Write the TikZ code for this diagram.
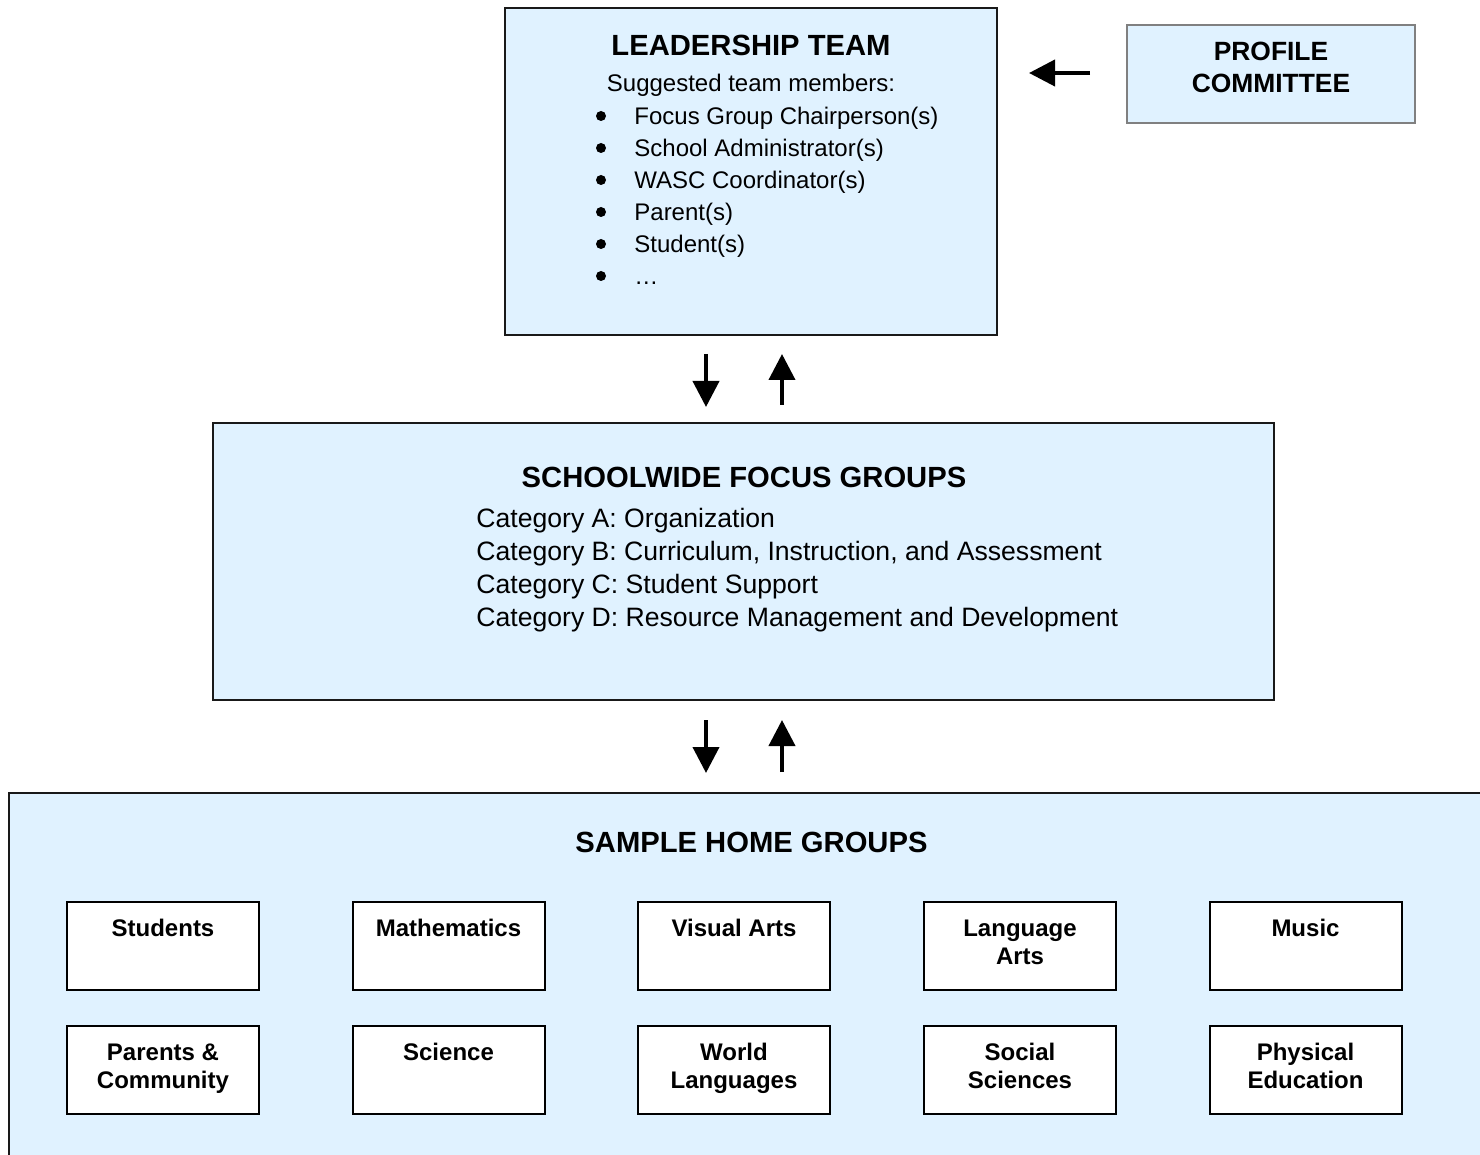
\documentclass[tikz,border=0pt]{standalone}
\usepackage{fontspec}
\setmainfont{Liberation Sans}
\usetikzlibrary{arrows.meta,calc}
\definecolor{boxblue}{RGB}{224,242,255}
\definecolor{profgray}{RGB}{128,128,128}
\begin{document}
\begin{tikzpicture}[x=0.5pt,y=-0.5pt,
  panel/.style={draw=black!90, line width=1pt, fill=boxblue, inner sep=0pt},
  profbox/.style={draw=profgray, line width=1pt, fill=boxblue, inner sep=0pt,
    minimum width=144pt, minimum height=49pt},
  homebox/.style={draw=black, line width=1pt, fill=white, inner sep=0pt,
    minimum width=96pt, minimum height=44pt},
  bulletdot/.style={circle, fill=black, inner sep=0pt, minimum size=5pt},
  txt/.style={inner sep=0pt, anchor=base},
  lefttxt/.style={inner sep=0pt, anchor=base west},
  headfont/.style={font=\fontsize{14.6}{17}\selectfont\bfseries},
  bodyfont/.style={font=\fontsize{12}{14}\selectfont},
  catfont/.style={font=\fontsize{13.3}{16}\selectfont},
  proffont/.style={font=\fontsize{13.2}{16}\selectfont\bfseries},
  smallfont/.style={font=\fontsize{12}{14}\selectfont\bfseries},
  flow/.style={line width=2pt, -{Triangle[width=13pt,length=13pt]}}
]
\useasboundingbox (0,0) rectangle (1480,1155);
\clip (0,0) rectangle (1480,1155);

% panels
\node[panel, minimum width=246pt, minimum height=163.5pt] (lead) at (751,171.5) {};
\node[profbox] (prof) at (1271,74) {};
\node[panel, minimum width=530.5pt, minimum height=138.5pt] (focus) at (743.5,561.5) {};
\node[panel, minimum width=745.5pt, minimum height=193.5pt] (home) at (754.5,986.5) {};

% leadership text
\node[txt, headfont] (leadT) at (751,55.5) {LEADERSHIP TEAM};
\node[txt, bodyfont] (leadS) at (751,91.5) {Suggested team members:};
\foreach \i/\t in {0/Focus Group Chairperson(s),1/School Administrator(s),2/WASC Coordinator(s),3/Parent(s),4/Student(s),5/\ldots}{
  \node[bulletdot] (bul\i) at (601,116+32*\i) {};
  \node[lefttxt, bodyfont] (item\i) at (634,124.5+32*\i) {\t};
}

% profile committee
\node[txt, proffont] (profA) at (1271,61) {PROFILE};
\node[txt, proffont] (profB) at (1271,93) {COMMITTEE};

% focus groups text
\node[txt, headfont] (focusT) at (744,487.5) {SCHOOLWIDE FOCUS GROUPS};
\foreach \i/\t in {0/{Category A: Organization},1/{Category B: Curriculum, Instruction, and Assessment},2/{Category C: Student Support},3/{Category D: Resource Management and Development}}{
  \node[lefttxt, catfont] (cat\i) at (476,527.5+33*\i) {\t};
}

% home groups
\node[txt, headfont] (homeT) at (751.5,852.5) {SAMPLE HOME GROUPS};
\foreach \n/\x/\y in {students/163/946, math/448.5/946, visual/734/946, lang/1020/946, music/1305.5/946,
                      parents/163/1070, science/448.5/1070, world/734/1070, social/1020/1070, pe/1305.5/1070}{
  \node[homebox] (\n) at (\x,\y) {};
}
\node[txt, smallfont] (studentsT) at ($(students.north)+(0,35.5)$) {Students};
\node[txt, smallfont] (mathT) at ($(math.north)+(0,35)$) {Mathematics};
\node[txt, smallfont] (visualT) at ($(visual.north)+(0,35.5)$) {Visual Arts};
\node[txt, smallfont] (langT) at ($(lang.north)+(0,35.5)$) {Language};
\node[txt, smallfont] (langT2) at ($(lang.north)+(0,63.5)$) {Arts};
\node[txt, smallfont] (musicT) at ($(music.north)+(0,35.5)$) {Music};
\node[txt, smallfont] (parentsT) at ($(parents.north)+(0,35)$) {Parents \&};
\node[txt, smallfont] (parentsT2) at ($(parents.north)+(0,63)$) {Community};
\node[txt, smallfont] (scienceT) at ($(science.north)+(0,35.5)$) {Science};
\node[txt, smallfont] (worldT) at ($(world.north)+(0,35)$) {World};
\node[txt, smallfont] (worldT2) at ($(world.north)+(0,63)$) {Languages};
\node[txt, smallfont] (socialT) at ($(social.north)+(0,35)$) {Social};
\node[txt, smallfont] (socialT2) at ($(social.north)+(0,63)$) {Sciences};
\node[txt, smallfont] (peT) at ($(pe.north)+(0,35)$) {Physical};
\node[txt, smallfont] (peT2) at ($(pe.north)+(0,63)$) {Education};

% arrows
\coordinate (pa) at ($(prof.west)+(-36,-1)$);
\coordinate (pb) at ($(lead.east)+(31,-98.5)$);
\draw[flow] (pa) -- (pb);

\coordinate (d1a) at (706,354);
\coordinate (d1b) at (706,407);
\coordinate (u1a) at (782,405);
\coordinate (u1b) at (782,354);
\draw[flow] (d1a) -- (d1b);
\draw[flow] (u1a) -- (u1b);

\coordinate (d2a) at (706,720);
\coordinate (d2b) at (706,773);
\coordinate (u2a) at (782,772);
\coordinate (u2b) at (782,720);
\draw[flow] (d2a) -- (d2b);
\draw[flow] (u2a) -- (u2b);
\end{tikzpicture}
\end{document}
